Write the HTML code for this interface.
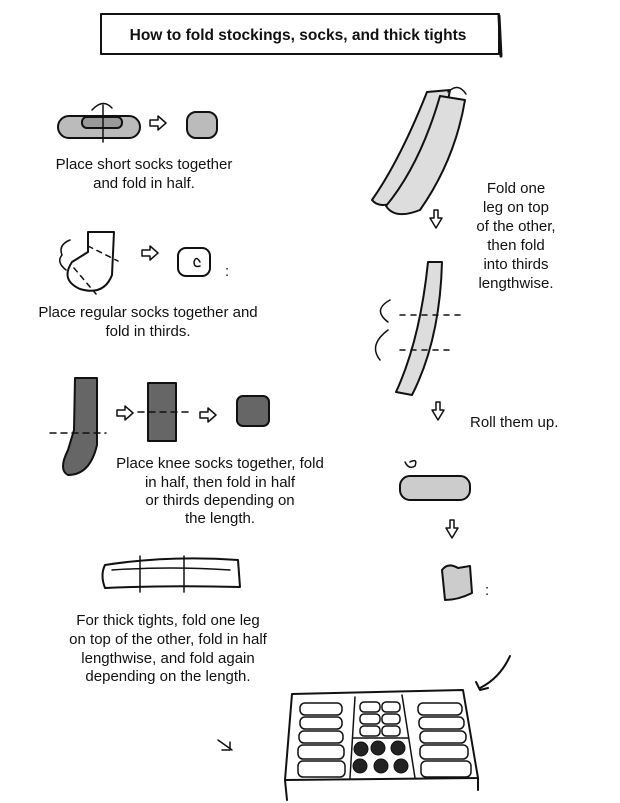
<!DOCTYPE html>
<html><head><meta charset="utf-8"><style>
body{margin:0;background:#fff;width:620px;height:803px;overflow:hidden}
svg{position:absolute;left:0;top:0}
text{font-family:"Liberation Sans",sans-serif;font-size:15px;fill:#111}
</style></head><body>
<svg width="620" height="803" viewBox="0 0 620 803" fill="none" stroke="#111" stroke-width="2" stroke-linecap="round" stroke-linejoin="round">
<!-- title -->
<rect x="101" y="14" width="398" height="40" stroke-width="2"/>
<line x1="499" y1="16" x2="501" y2="56" stroke-width="3"/>
<text x="298" y="40" text-anchor="middle" stroke="none" style="font-size:15.5px;font-weight:bold">How to fold stockings, socks, and thick tights</text>

<!-- short sock -->
<rect x="58" y="116" width="82" height="22" rx="11" fill="#bbb"/>
<rect x="82" y="117" width="40" height="11" rx="5" fill="#999"/>
<line x1="103" y1="105" x2="103" y2="142" stroke-width="1.5"/>
<path d="M92 110 Q103 98 112 108" stroke-width="1.5"/>
<path d="M150 120 l8 0 0 -4 8 7 -8 7 0 -4 -8 0z" stroke-width="1.5"/>
<rect x="187" y="112" width="30" height="26" rx="9" fill="#bbb"/>

<!-- regular sock -->
<path d="M88 232 L114 232 L112 275 Q104 296 80 289 Q60 280 72 262 L88 252z" fill="#fff"/>
<path d="M62 255 Q58 245 70 240 M66 270 Q56 262 62 255" stroke-width="1.5"/>
<path d="M88 246 l30 15 M74 268 l22 26" stroke-dasharray="5 5" stroke-width="1.5"/>
<path d="M142 250 l8 0 0 -4 8 7 -8 7 0 -4 -8 0z" stroke-width="1.5"/>
<rect x="178" y="248" width="32" height="28" rx="8" fill="#fff"/>
<path d="M200 262 q-4 -7 -6 0 q0 6 6 4" stroke-width="1.5"/>
<text x="225" y="276" stroke="none">:</text>

<!-- knee socks -->
<path d="M75 378 L97 378 L97 445 Q90 475 68 475 Q58 470 68 450 L74 430z" fill="#666"/>
<path d="M50 433 H106" stroke-dasharray="6 5" stroke-width="1.5"/>
<path d="M117 410 l8 0 0 -4 8 7 -8 7 0 -4 -8 0z" stroke-width="1.5"/>
<rect x="148" y="383" width="28" height="58" fill="#666"/>
<path d="M138 412 H190" stroke-dasharray="6 5" stroke-width="1.5"/>
<path d="M200 412 l8 0 0 -4 8 7 -8 7 0 -4 -8 0z" stroke-width="1.5"/>
<rect x="237" y="396" width="32" height="30" rx="6" fill="#666"/>

<!-- tights -->
<path d="M105 565 Q170 555 238 560 L240 587 Q170 585 105 588 Q100 575 105 565z" fill="#fff"/>
<path d="M112 570 Q170 566 230 570 M140 556 V592 M184 556 V592" stroke-width="1.5"/>
<path d="M218 740 l14 10 m-2 -8 v8 h-8" stroke-width="1.5"/>

<!-- right column stocking -->
<path d="M427 92 L450 90 Q440 150 402 200 Q380 210 372 200 Q400 160 427 92z" fill="#ddd"/>
<path d="M440 96 L465 100 Q455 160 420 210 Q395 220 386 206 Q420 165 440 96z" fill="#ddd"/>
<path d="M448 92 q10 -10 18 2" stroke-width="1.5"/>
<path d="M430 218 l6 10 6 -10 h-4 v-8 h-4 v8z" stroke-width="1.5"/>
<path d="M428 262 L442 262 Q440 340 412 395 L396 392 Q420 340 428 262z" fill="#ddd"/>
<path d="M400 315 H460 M400 350 H455" stroke-dasharray="5 6" stroke-width="1.5"/>
<path d="M390 300 Q372 310 388 322 M388 330 Q368 345 380 360" stroke-width="1.5"/>
<path d="M432 410 l6 10 6 -10 h-4 v-8 h-4 v8z" stroke-width="1.5"/>
<rect x="400" y="476" width="70" height="24" rx="10" fill="#ccc"/>
<path d="M410 462 q8 -4 5 4 q-6 4 -10 -4" stroke-width="1.5"/>
<path d="M446 528 l6 10 6 -10 h-4 v-8 h-4 v8z" stroke-width="1.5"/>
<path d="M442 570 Q448 562 458 568 L470 566 L472 593 Q458 600 445 600z" fill="#ccc"/>
<path d="M510 656 Q500 678 480 688 M476 682 l4 8 8 -2" stroke-width="2"/>

<!-- drawer -->
<path d="M292 694 L463 690 L478 778 L285 780z" fill="#fff"/>
<path d="M285 780 L287 800 M478 778 L478 790" stroke-width="2"/>
<path d="M355 697 L350 778 M402 695 L415 778 M353 738 H408" stroke-width="1.5"/>
<g stroke-width="1.5">
<rect x="300" y="703" width="42" height="12" rx="5"/><rect x="300" y="717" width="42" height="12" rx="5"/><rect x="299" y="731" width="44" height="12" rx="5"/><rect x="298" y="745" width="46" height="14" rx="5"/><rect x="298" y="761" width="47" height="16" rx="5"/>
<rect x="418" y="703" width="44" height="12" rx="5"/><rect x="419" y="717" width="45" height="12" rx="5"/><rect x="420" y="731" width="46" height="12" rx="5"/><rect x="420" y="745" width="48" height="14" rx="5"/><rect x="421" y="761" width="50" height="16" rx="5"/>
<rect x="360" y="702" width="20" height="10" rx="4"/><rect x="382" y="702" width="18" height="10" rx="4"/><rect x="360" y="714" width="20" height="10" rx="4"/><rect x="382" y="714" width="18" height="10" rx="4"/><rect x="360" y="726" width="20" height="10" rx="4"/><rect x="382" y="726" width="18" height="10" rx="4"/>
</g>
<g fill="#222" stroke-width="1">
<circle cx="361" cy="749" r="7"/><circle cx="378" cy="748" r="7"/><circle cx="398" cy="748" r="7"/>
<circle cx="360" cy="766" r="7"/><circle cx="381" cy="766" r="7"/><circle cx="401" cy="766" r="7"/>
</g>

<g stroke="none">
<text x="144" y="169" text-anchor="middle">Place short socks together</text>
<text x="144" y="188" text-anchor="middle">and fold in half.</text>
<text x="148" y="317" text-anchor="middle">Place regular socks together and</text>
<text x="148" y="336" text-anchor="middle">fold in thirds.</text>
<text x="220" y="468" text-anchor="middle">Place knee socks together, fold</text>
<text x="220" y="487" text-anchor="middle">in half, then fold in half</text>
<text x="220" y="505" text-anchor="middle">or thirds depending on</text>
<text x="220" y="523" text-anchor="middle">the length.</text>
<text x="168" y="625" text-anchor="middle">For thick tights, fold one leg</text>
<text x="168" y="644" text-anchor="middle">on top of the other, fold in half</text>
<text x="168" y="663" text-anchor="middle">lengthwise, and fold again</text>
<text x="168" y="681" text-anchor="middle">depending on the length.</text>
<text x="516" y="193" text-anchor="middle">Fold one</text>
<text x="516" y="212" text-anchor="middle">leg on top</text>
<text x="516" y="231" text-anchor="middle">of the other,</text>
<text x="516" y="250" text-anchor="middle">then fold</text>
<text x="516" y="269" text-anchor="middle">into thirds</text>
<text x="516" y="288" text-anchor="middle">lengthwise.</text>
<text x="470" y="427">Roll them up.</text>
<text x="485" y="595">:</text>
</g>
</svg>
</body></html>
